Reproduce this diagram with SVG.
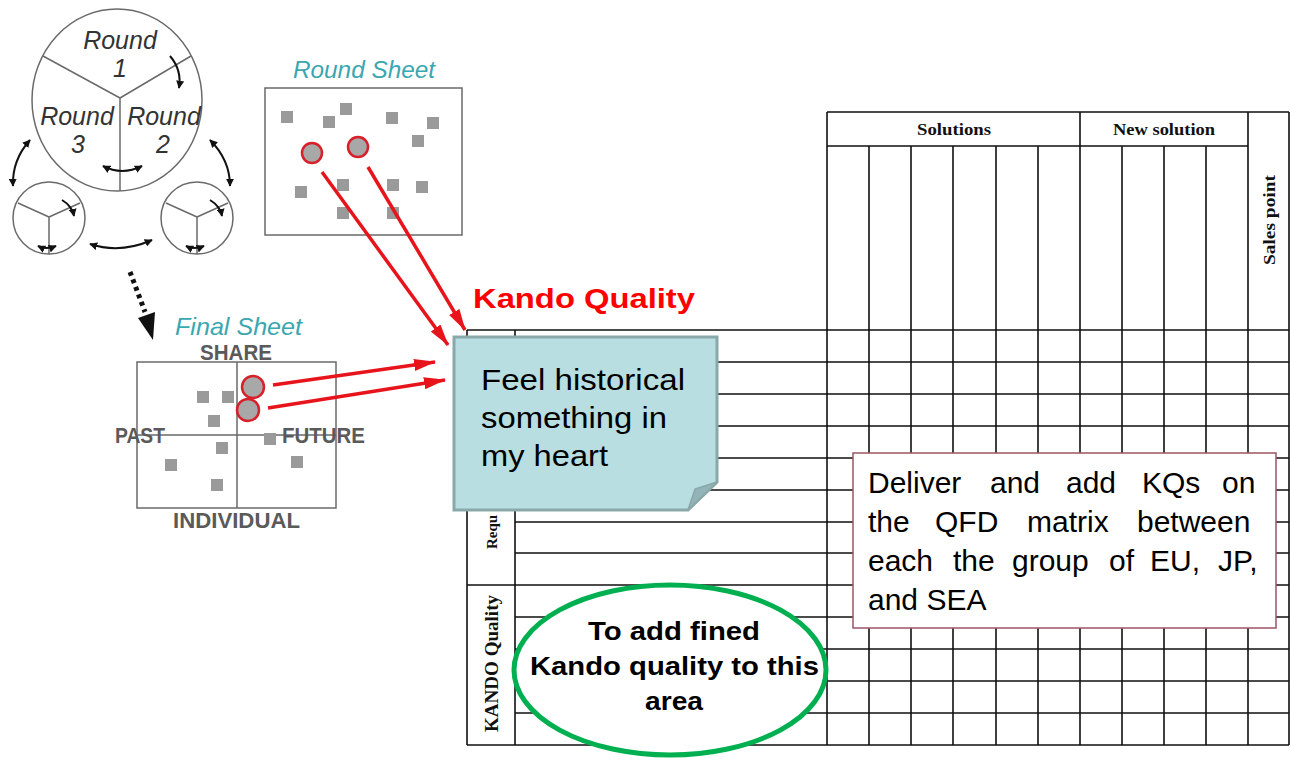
<svg xmlns="http://www.w3.org/2000/svg" width="1290" height="760" viewBox="0 0 1290 760">
<style>
.rnd{font-family:"Liberation Sans",Arial,sans-serif;font-style:italic;font-size:25px;fill:#333;text-anchor:middle}
.ttl{font-family:"Liberation Sans",Arial,sans-serif;font-style:italic;font-size:24px;fill:#3aa7b0}
.axis{font-family:"Liberation Sans",Arial,sans-serif;font-weight:bold;font-size:22px;fill:#5a5a5a}
.sq{fill:#9a9a9a}
.sel{fill:#a8a8a8;stroke:#d8202a;stroke-width:2.5}
.thin{stroke:#6a6a6a;stroke-width:1.5;fill:none}
.blk{stroke:#111;stroke-width:2;fill:none}
.grid{stroke:#111;stroke-width:1.6;fill:none}
.hdr{font-family:"Liberation Serif","Times New Roman",serif;font-weight:bold;fill:#111}
.body{font-family:"Liberation Sans",Arial,sans-serif;font-size:30px;fill:#000}
.red{stroke:#e8141c;stroke-width:3.5;fill:none}
</style>
<defs>
<marker id="ah" viewBox="0 0 10 10" refX="9" refY="5" markerWidth="8" markerHeight="8" markerUnits="userSpaceOnUse" orient="auto-start-reverse"><path d="M0,0 L10,5 L0,10 Z" fill="#111"/></marker>
<marker id="rh" viewBox="0 0 22 12" refX="21" refY="6" markerWidth="22" markerHeight="12" markerUnits="userSpaceOnUse" orient="auto"><path d="M0,0 L22,6 L0,12 Z" fill="#e8141c"/></marker>
</defs>

<g id="rounds">
<ellipse cx="117" cy="100" rx="85" ry="91" fill="#fff" class="thin"/>
<path class="thin" d="M120,98 L43,56 M120,98 L191,56 M120,98 L120,191"/>
<text class="rnd" x="120" y="49">Round</text>
<text class="rnd" x="120" y="77">1</text>
<text class="rnd" x="77" y="125">Round</text>
<text class="rnd" x="78" y="153">3</text>
<text class="rnd" x="164" y="125">Round</text>
<text class="rnd" x="163" y="153">2</text>
<path class="blk" d="M170,56 Q182,70 179,88" marker-end="url(#ah)"/>
<path class="blk" d="M103,166 Q122,176 142,166" marker-start="url(#ah)" marker-end="url(#ah)"/>
<circle cx="49" cy="218" r="36" fill="#fff" class="thin"/>
<path class="thin" d="M49,217 L18,203 M49,217 L80,203 M49,217 L49,254"/>
<path class="blk" d="M62,200 Q72,206 74,216" marker-end="url(#ah)"/>
<path class="blk" d="M38,246 Q46,250 56,246" marker-start="url(#ah)" marker-end="url(#ah)"/>
<circle cx="197" cy="218" r="36" fill="#fff" class="thin"/>
<path class="thin" d="M197,217 L166,203 M197,217 L228,203 M197,217 L197,254"/>
<path class="blk" d="M210,200 Q220,206 222,216" marker-end="url(#ah)"/>
<path class="blk" d="M186,246 Q194,250 204,246" marker-start="url(#ah)" marker-end="url(#ah)"/>
<path class="blk" d="M30,140 Q12,160 13,186" marker-start="url(#ah)" marker-end="url(#ah)"/>
<path class="blk" d="M210,140 Q230,160 230,186" marker-start="url(#ah)" marker-end="url(#ah)"/>
<path class="blk" d="M90,244 Q120,254 152,240" marker-start="url(#ah)" marker-end="url(#ah)"/>
<path d="M130,272 L145,312" stroke="#111" stroke-width="5" stroke-dasharray="4,4" fill="none"/>
<path d="M153,340 L138,318 L155,312 Z" fill="#111"/>
</g>

<g id="round-sheet">
<text class="ttl" x="293" y="78" textLength="142" lengthAdjust="spacingAndGlyphs">Round Sheet</text>
<rect x="265" y="88" width="197" height="147" class="thin" fill="#fff"/>
<g class="sq">
<rect x="281" y="111" width="12" height="12"/><rect x="323" y="116" width="12" height="12"/>
<rect x="340" y="103" width="12" height="12"/><rect x="386" y="112" width="12" height="12"/>
<rect x="427" y="117" width="12" height="12"/><rect x="412" y="135" width="12" height="12"/>
<rect x="295" y="186" width="12" height="12"/><rect x="337" y="179" width="12" height="12"/>
<rect x="337" y="207" width="12" height="12"/><rect x="387" y="179" width="12" height="12"/>
<rect x="416" y="181" width="12" height="12"/><rect x="387" y="207" width="12" height="12"/>
</g>
<circle cx="312" cy="153" r="10" class="sel"/>
<circle cx="358" cy="147" r="10" class="sel"/>
</g>

<g id="final-sheet">
<text class="ttl" x="175" y="335" textLength="127" lengthAdjust="spacingAndGlyphs">Final Sheet</text>
<rect x="137" y="362" width="199" height="146" class="thin" fill="#fff"/>
<path class="thin" d="M237,362 V508 M137,435 H336"/>
<text class="axis" x="200" y="360" textLength="72" lengthAdjust="spacingAndGlyphs">SHARE</text>
<text class="axis" x="115" y="443" textLength="50" lengthAdjust="spacingAndGlyphs">PAST</text>
<text class="axis" x="282" y="443" textLength="83" lengthAdjust="spacingAndGlyphs">FUTURE</text>
<text class="axis" x="173" y="528" textLength="127" lengthAdjust="spacingAndGlyphs">INDIVIDUAL</text>
<g class="sq">
<rect x="197" y="391" width="12" height="12"/><rect x="222" y="391" width="12" height="12"/>
<rect x="208" y="415" width="12" height="12"/><rect x="216" y="442" width="12" height="12"/>
<rect x="165" y="459" width="12" height="12"/><rect x="211" y="479" width="12" height="12"/>
<rect x="264" y="433" width="12" height="12"/><rect x="291" y="456" width="12" height="12"/>
</g>
<circle cx="253" cy="387" r="11" class="sel"/>
<circle cx="248" cy="410" r="11" class="sel"/>
</g>

<g id="matrix">
<path class="grid" d="M827,112 H1289 M827,146 H1248
M827,112 V745 M869,146 V745 M911,146 V745 M953,146 V745 M996,146 V745 M1038,146 V745 M1080,112 V745 M1122,146 V745 M1164,146 V745 M1206,146 V745 M1248,112 V745 M1289,112 V745
M467,330 V745 M515,330 V745
M467,330 H1289 M515,362 H1289 M515,394 H1289 M515,426 H1289 M515,458 H1289 M515,490 H1289 M515,522 H1289 M515,553 H1289
M467,585 H1289 M515,617 H1289 M515,649 H1289 M515,681 H1289 M515,713 H1289 M467,745 H1289"/>
<text class="hdr" x="917" y="135" font-size="17" textLength="74" lengthAdjust="spacingAndGlyphs">Solutions</text>
<text class="hdr" x="1113" y="135" font-size="17" textLength="102" lengthAdjust="spacingAndGlyphs">New solution</text>
<text class="hdr" font-size="17" transform="translate(1275,265) rotate(-90)" textLength="90" lengthAdjust="spacingAndGlyphs">Sales point</text>
<text class="hdr" font-size="15" transform="translate(497,549) rotate(-90)">Requ</text>
<text class="hdr" font-size="18" transform="translate(498,732) rotate(-90)" textLength="137" lengthAdjust="spacingAndGlyphs">KANDO Quality</text>
</g>

<g id="connectors">
<path class="red" d="M322,172 L448,345" marker-end="url(#rh)"/>
<path class="red" d="M368,167 L465,330" marker-end="url(#rh)"/>
<path class="red" d="M273,385 L435,362" marker-end="url(#rh)"/>
<path class="red" d="M268,408 L445,380" marker-end="url(#rh)"/>
</g>

<g id="kando-label">
<text x="473" y="308" font-family="Liberation Sans, Arial, sans-serif" font-weight="bold" font-size="28" fill="#ff0000" textLength="222" lengthAdjust="spacingAndGlyphs">Kando Quality</text>
</g>

<g id="note-feel">
<path d="M454,337 H717 V482 L688,510 H454 Z" fill="#b8dee1" stroke="#8aa7a9" stroke-width="3"/>
<path d="M717,482 L688,510 L695,489 Z" fill="#93b4b6" stroke="#8aa7a9" stroke-width="1.5"/>
<text class="body" x="481" y="390" font-size="28" textLength="204" lengthAdjust="spacingAndGlyphs">Feel historical</text>
<text class="body" x="481" y="428" font-size="28" textLength="186" lengthAdjust="spacingAndGlyphs">something in</text>
<text class="body" x="481" y="466" font-size="28" textLength="127" lengthAdjust="spacingAndGlyphs">my heart</text>
</g>

<g id="note-deliver">
<rect x="853" y="453" width="423" height="175" fill="#fff" stroke="#9a5566" stroke-width="1.5"/>
<text class="body" y="493"><tspan x="868">Deliver</tspan><tspan x="990">and</tspan><tspan x="1066">add</tspan><tspan x="1142">KQs</tspan><tspan x="1222">on</tspan></text>
<text class="body" y="532"><tspan x="868">the</tspan><tspan x="935">QFD</tspan><tspan x="1027">matrix</tspan><tspan x="1137">between</tspan></text>
<text class="body" y="571"><tspan x="868">each</tspan><tspan x="953">the</tspan><tspan x="1012">group</tspan><tspan x="1109">of</tspan><tspan x="1150">EU,</tspan><tspan x="1218">JP,</tspan></text>
<text class="body" y="610"><tspan x="868">and SEA</tspan></text>
</g>

<g id="ellipse-note">
<ellipse cx="670" cy="670" rx="156" ry="85" fill="#fff" stroke="#00b050" stroke-width="5"/>
<g font-family="Liberation Sans, Arial, sans-serif" font-weight="bold" font-size="25" fill="#000">
<text x="588" y="640" textLength="172" lengthAdjust="spacingAndGlyphs">To add fined</text>
<text x="530" y="675" textLength="289" lengthAdjust="spacingAndGlyphs">Kando quality to this</text>
<text x="645" y="710" textLength="58" lengthAdjust="spacingAndGlyphs">area</text>
</g>
</g>
</svg>
